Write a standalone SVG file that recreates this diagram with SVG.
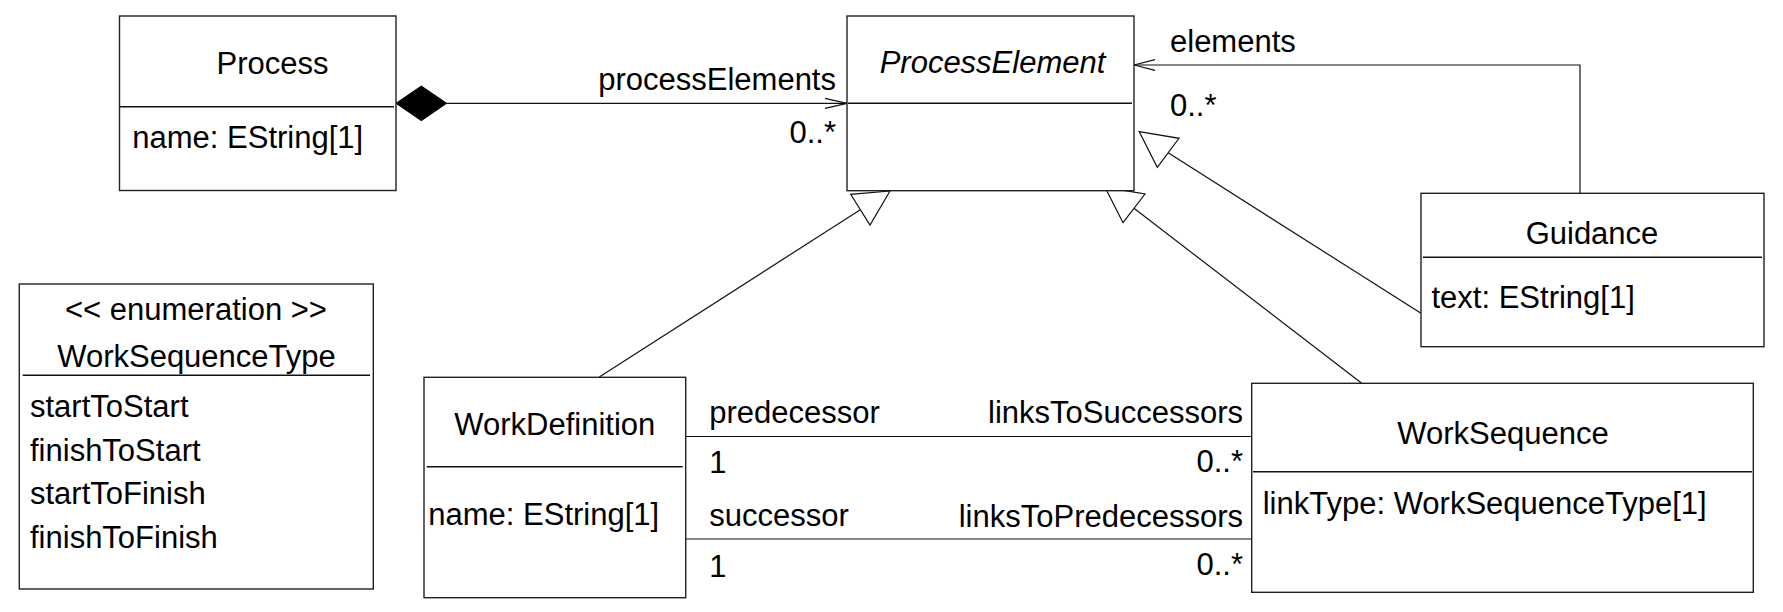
<svg xmlns="http://www.w3.org/2000/svg" width="1783" height="612" viewBox="0 0 1783 612">
<style>
text{font-family:"Liberation Sans",Arial,sans-serif;font-size:31px;fill:#000}
.box{fill:#fff;stroke:#222;stroke-width:1.4}
.div{stroke:#111;stroke-width:1.4}
.ln{fill:none;stroke:#111;stroke-width:1.2}
.tri{fill:#fff;stroke:#111;stroke-width:1.2}
.c{text-anchor:middle}
.e{text-anchor:end}
</style>
<g id="connectors">
<path class="ln" d="M446.7,103.3 H847"/>
<polygon points="396,103.3 421.3,86 446.7,103.3 421.3,120.7" fill="#000" stroke="#000" stroke-width="1"/>
<path class="ln" d="M825,98.3 L847,103.3 L825,108.3"/>
<path class="ln" d="M1580,193.3 V65 H1134"/>
<path class="ln" d="M1155,59.7 L1134,65 L1155,70.3"/>
<path class="ln" d="M599.3,377 L860.3,209.7"/>
<polygon class="tri" points="890,191 850.7,194.3 870,225"/>
<path class="ln" d="M1421,313.3 L1168.2,152.8"/>
<polygon class="tri" points="1139.3,131.7 1179,138.3 1157.3,167.3"/>
<path class="ln" d="M1361.7,383.3 L1134,208.3"/>
<polygon class="tri" points="1105,187.3 1145,194 1123,222.7"/>
<path class="ln" d="M684,436.5 H1252"/>
<path class="ln" d="M684,539 H1252"/>
<text x="836" y="90" class="e">processElements</text>
<text x="836" y="142.5" class="e">0..*</text>
<text x="1170" y="51.7">elements</text>
<text x="1170" y="116">0..*</text>
<text x="709.3" y="422.5">predecessor</text>
<text x="709.3" y="473">1</text>
<text x="709.3" y="525.5">successor</text>
<text x="709.3" y="577">1</text>
<text x="1243" y="423" class="e">linksToSuccessors</text>
<text x="1243" y="472" class="e">0..*</text>
<text x="1243" y="527" class="e">linksToPredecessors</text>
<text x="1243" y="575" class="e">0..*</text>
</g>
<g id="Process">
<rect class="box" x="119.5" y="16" width="276.5" height="174.5"/>
<line class="div" x1="120" y1="106.7" x2="394" y2="106.7"/>
<text x="272.5" y="74" class="c">Process</text>
<text x="132.3" y="148.3">name: EString[1]</text>
</g>
<g id="ProcessElement">
<rect class="box" x="847" y="16" width="287" height="174.7"/>
<line class="div" x1="848" y1="103.3" x2="1132" y2="103.3"/>
<text x="992.5" y="73.3" class="c" font-style="italic">ProcessElement</text>
</g>
<g id="Guidance">
<rect class="box" x="1421" y="193.3" width="343" height="153.4"/>
<line class="div" x1="1423" y1="257.3" x2="1762" y2="257.3"/>
<text x="1592" y="244" class="c">Guidance</text>
<text x="1431.5" y="308.3">text: EString[1]</text>
</g>
<g id="WorkDefinition">
<rect class="box" x="424" y="377.3" width="261.7" height="220.4"/>
<line class="div" x1="426.7" y1="466.7" x2="682.7" y2="466.7"/>
<text x="554.8" y="435" class="c">WorkDefinition</text>
<text x="428.3" y="525">name: EString[1]</text>
</g>
<g id="WorkSequence">
<rect class="box" x="1251.7" y="383.3" width="501.6" height="209"/>
<line class="div" x1="1253" y1="471.7" x2="1752" y2="471.7"/>
<text x="1503" y="444" class="c">WorkSequence</text>
<text x="1262.7" y="514">linkType: WorkSequenceType[1]</text>
</g>
<g id="WorkSequenceType">
<rect class="box" x="19.3" y="284" width="354" height="305"/>
<line class="div" x1="22.7" y1="375.3" x2="370" y2="375.3"/>
<text x="196" y="320" class="c">&lt;&lt; enumeration &gt;&gt;</text>
<text x="196.5" y="367.3" class="c">WorkSequenceType</text>
<text x="30" y="416.7">startToStart</text>
<text x="30" y="460.7">finishToStart</text>
<text x="30" y="504.3">startToFinish</text>
<text x="30" y="547.7">finishToFinish</text>
</g>
</svg>
